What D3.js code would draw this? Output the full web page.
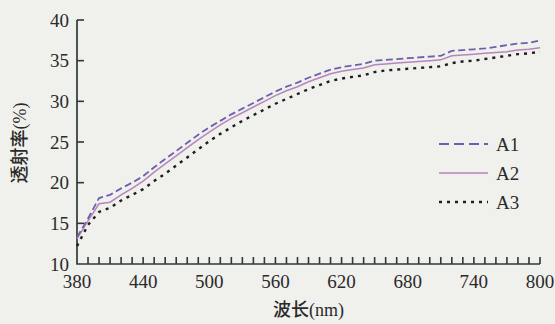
<!DOCTYPE html>
<html>
<head>
<meta charset="utf-8">
<script src="https://cdn.jsdelivr.net/npm/d3@7"></script>
<style>
  body { margin: 0; background: #f0f0ed; }
  svg { display: block; }
  text { fill: #2a2a2a; }
</style>
</head>
<body>
<div id="chart"></div>
<script>
// wavelength (nm), one value per 10 nm
const wavelengths = d3.range(380, 801, 10);
const seriesNames = ['A1', 'A2', 'A3'];
const a1 = [13.3,15.6,18.1,18.5,19.3,20.0,20.8,21.9,22.9,23.9,24.9,25.9,26.8,27.6,28.4,29.1,29.8,30.5,31.2,31.8,32.3,32.9,33.4,33.9,34.2,34.4,34.6,35.0,35.1,35.2,35.3,35.4,35.5,35.6,36.2,36.3,36.4,36.5,36.7,36.9,37.1,37.2,37.5];
const a2 = [13.1,15.3,17.4,17.6,18.5,19.3,20.2,21.3,22.3,23.3,24.3,25.3,26.2,27.1,27.9,28.6,29.3,30.0,30.7,31.3,31.8,32.4,32.9,33.4,33.7,33.9,34.1,34.5,34.6,34.7,34.8,34.9,35.0,35.1,35.6,35.7,35.8,35.9,36.0,36.1,36.3,36.4,36.6];
const a3 = [12.2,14.8,16.4,16.9,17.8,18.5,19.2,20.2,21.1,22.1,23.1,24.1,25.1,26.0,26.8,27.6,28.3,29.0,29.7,30.3,30.9,31.5,32.0,32.5,32.8,33.0,33.2,33.6,33.8,33.9,34.0,34.1,34.2,34.3,34.7,34.9,35.0,35.2,35.4,35.6,35.8,35.9,36.1];
const xTickLabels = [380, 440, 500, 560, 620, 680, 740, 800];
const yTickLabels = [10, 15, 20, 25, 30, 35, 40];

const width = 555;
const height = 324;
const margin = { left: 77, right: 15, top: 20, bottom: 60 };

const series = [
    { name: 'A1', values: a1, color: '#6c5fae', dash: '7,3.5', w: 1.8 },
    { name: 'A2', values: a2, color: '#b486bb', dash: null, w: 1.5 },
    { name: 'A3', values: a3, color: '#1e1e1e', dash: '3,5', w: 2.4 }
];

const svg = d3.select('#chart')
    .append('svg')
    .attr('width', width)
    .attr('height', height);

const xScale = d3.scaleLinear()
    .domain([380, 800])
    .range([margin.left, width - margin.right]);

const yScale = d3.scaleLinear()
    .domain([10, 40])
    .range([height - margin.bottom, margin.top]);

const axisColor = '#2f3a3a';
const serif = '"Liberation Serif", "DejaVu Serif", serif';
const cjk = '"Liberation Serif", "Noto Sans CJK SC", serif';

const x0 = xScale(380);
const y0 = yScale(10);

// ticks as small rects (x: every 10 nm pointing up, y: every 5 pointing right)
const axes = svg.append('g');
axes.selectAll('rect.xt')
    .data(wavelengths.slice(1))
    .join('rect')
    .attr('class', 'xt')
    .attr('x', d => xScale(d) - 0.8)
    .attr('y', y0 - 7)
    .attr('width', 1.6)
    .attr('height', 7)
    .attr('fill', axisColor);
axes.selectAll('rect.yt')
    .data(yTickLabels.slice(1))
    .join('rect')
    .attr('class', 'yt')
    .attr('x', x0)
    .attr('y', d => yScale(d) - 0.8)
    .attr('width', 7)
    .attr('height', 1.6)
    .attr('fill', axisColor);
axes.append('path')
    .attr('d', `M${x0},${yScale(40)}V${y0}H${xScale(800)}`)
    .attr('fill', 'none')
    .attr('stroke', axisColor)
    .attr('stroke-width', 1.7);

svg.append('g')
    .selectAll('text')
    .data(xTickLabels)
    .join('text')
    .attr('x', d => xScale(d))
    .attr('y', y0 + 24)
    .attr('text-anchor', 'middle')
    .style('font-family', serif)
    .style('font-size', '19px')
    .text(d => d);

svg.append('g')
    .selectAll('text')
    .data(yTickLabels)
    .join('text')
    .attr('x', x0 - 8)
    .attr('y', d => yScale(d))
    .attr('dy', '0.35em')
    .attr('text-anchor', 'end')
    .style('font-family', serif)
    .style('font-size', '19px')
    .text(d => d);

// axis titles
svg.append('text')
    .attr('x', (x0 + xScale(800)) / 2)
    .attr('y', 316)
    .attr('text-anchor', 'middle')
    .style('font-family', cjk)
    .style('font-size', '18px')
    .style('font-weight', 500)
    .text('波长(nm)');

svg.append('text')
    .attr('transform', 'translate(26,143) rotate(-90)')
    .attr('text-anchor', 'middle')
    .style('font-family', cjk)
    .style('font-size', '18px')
    .style('font-weight', 500)
    .text('透射率(%)');

// lines
const line = d3.line()
    .x((d, i) => xScale(wavelengths[i]))
    .y(d => yScale(d));

svg.append('g')
    .selectAll('path')
    .data(series.slice().reverse())
    .join('path')
    .attr('fill', 'none')
    .attr('stroke', d => d.color)
    .attr('stroke-width', d => d.w)
    .attr('stroke-dasharray', d => d.dash)
    .attr('d', d => line(d.values));

// legend
const legend = svg.append('g')
    .selectAll('g')
    .data(series)
    .join('g')
    .attr('transform', (d, i) => `translate(439,${144 + i * 29})`);

legend.append('line')
    .attr('x1', 0)
    .attr('x2', 49)
    .attr('stroke', d => d.color)
    .attr('stroke-width', d => d.w)
    .attr('stroke-dasharray', d => d.name === 'A1' ? '10,5' : d.dash);

legend.append('text')
    .attr('x', 57)
    .attr('dy', '0.35em')
    .style('font-family', serif)
    .style('font-size', '19px')
    .text(d => d.name);
</script>
</body>
</html>
